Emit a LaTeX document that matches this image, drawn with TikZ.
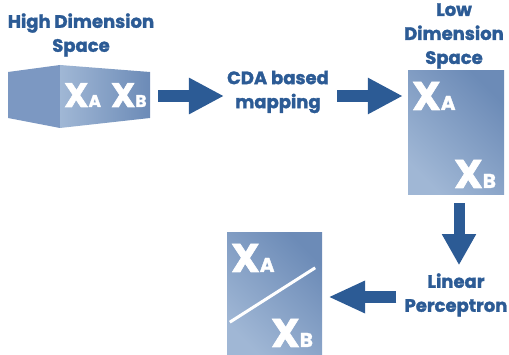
\documentclass[tikz,border=0pt]{standalone}
\usepackage{fontspec}
\setmainfont{Poppins}[BoldFeatures={FakeBold=1.6}]
\usetikzlibrary{arrows.meta}

\definecolor{ink}{HTML}{2C5B95}
\definecolor{boxlight}{HTML}{A0B7D5}
\definecolor{boxdark}{HTML}{6C8BB7}
\definecolor{sidecol}{HTML}{7C98C2}

% big X with a small subscript letter sitting on its baseline
\newcommand\Xsub[2][40]{{\fontsize{#1}{#1}\selectfont X}{\fontsize{\numexpr #1/2\relax}{#1}\selectfont #2}}

\tikzset{
  lbl/.style={font=\bfseries\fontsize{18}{24}\selectfont, text=ink, align=center, inner sep=0pt},
  panel/.style={shading=axis, bottom color=boxlight, top color=boxdark, shading angle=-45,
                draw=none, inner sep=0pt},
  xlbl/.style={font=\bfseries, text=white, inner sep=0pt, anchor=base west, text depth=0pt},
  blockarrow/.style={draw=ink, line width=12.5pt, -{Triangle[length=35pt,width=34pt]}},
}

\begin{document}
\begin{tikzpicture}[x=1pt,y=-1pt]
  \useasboundingbox (0,0) rectangle (509,355);

  % ---- high dimension space: box seen from its front edge
  \node[lbl] (hdtxt) at (81,35) {High Dimension\\Space};
  \fill[sidecol] (8,72) -- (60,65) -- (60,128) -- (8,118) -- cycle;
  \shade[left color=boxlight, right color=boxdark] (60,65) -- (150,72) -- (150,118) -- (60,128) -- cycle;
  \begin{scope}
    \clip (60,65) -- (150,72) -- (150,118) -- (60,128) -- cycle;
    \node[xlbl] (hdx) at (64,107) {\Xsub[34]{A}\hspace{10pt}\Xsub[34]{B}};
  \end{scope}
  \coordinate (hdR) at (150,96);

  % ---- mapping step
  \node[lbl] (cda) at (278,92) {CDA based\\mapping};

  % ---- low dimension space
  \node[lbl] (ldtxt) at (454,36) {Low\\Dimension\\Space};
  \node[panel, minimum width=96pt, minimum height=124pt] (low) at (456,133) {};
  \node[xlbl] (lowa) at (412,110) {\Xsub{A}};
  \node[xlbl] (lowb) at (454,188) {\Xsub{B}};

  % ---- classifier step
  \node[lbl] (lin) at (456,295) {Linear\\Perceptron};

  % ---- separated result
  \node[panel, minimum width=95pt, minimum height=122pt] (res) at (274.5,294) {};
  \node[xlbl] (resa) at (231,272) {\Xsub{A}};
  \node[xlbl] (resb) at (271,347) {\Xsub{B}};
  \path (res.south west) ++(3,-33) coordinate (d1)
        (res.north east) ++(-7,35) coordinate (d2);
  \draw[white, line width=3pt] (d1) -- (d2);

  % ---- connectors
  \draw[blockarrow, shorten <=8pt, shorten >=3pt] (hdR) -- (cda.west |- hdR);
  \draw[blockarrow, shorten <=8pt, shorten >=5pt] (cda.east |- hdR) -- (low.west |- hdR);
  \draw[blockarrow, line width=11pt, -{Triangle[length=31pt,width=32pt]}, shorten <=8pt, shorten >=8pt]
        (low.south -| 459,0) -- (lin.north -| 459,0);
  \draw[blockarrow, -{Triangle[length=37pt,width=30pt]}, shorten <=8pt, shorten >=6pt]
        (lin.west |- 0,297) -- (res.east |- 0,297);
\end{tikzpicture}
\end{document}
